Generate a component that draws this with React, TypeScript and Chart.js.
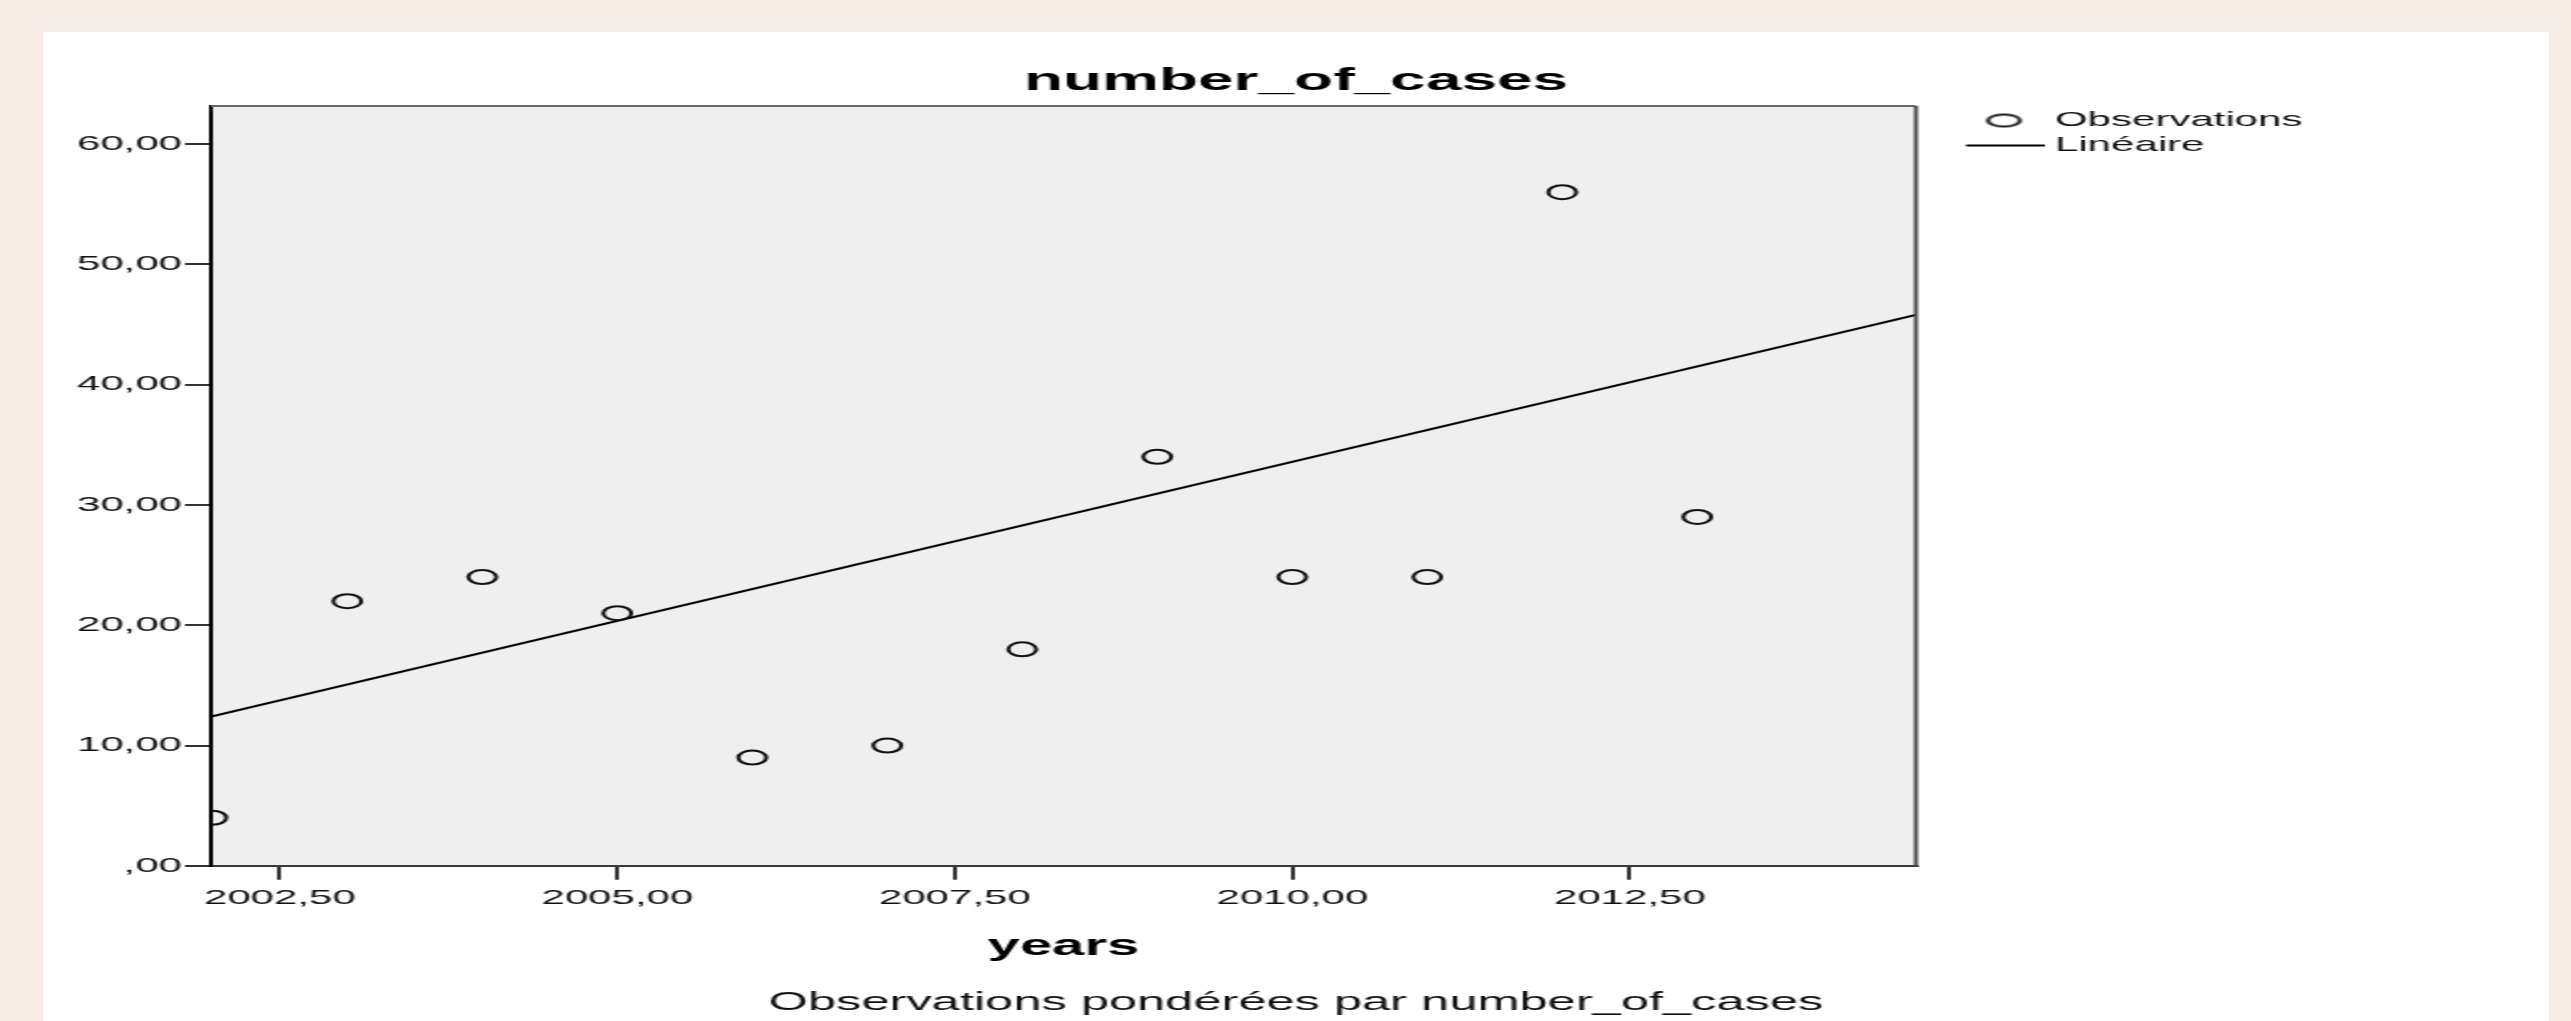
import React, { useEffect, useRef } from "react";
import { Chart, registerables } from "chart.js";

Chart.register(...registerables);

// ---- data ----
const years = [2002, 2003, 2004, 2005, 2006, 2007, 2008, 2009, 2010, 2011, 2012, 2013];
const cases = [4, 22, 24, 21, 9, 10, 18, 34, 24, 24, 56, 29];
const fitX = [2001.99, 2014.62];
const fitY = [12.4, 45.8];
const xRange = [2001.99, 2014.62];
const yRange = [0, 63.16];
const xTicks = [2002.5, 2005, 2007.5, 2010, 2012.5];
const xTickLabels = ["2002,50", "2005,00", "2007,50", "2010,00", "2012,50"];
const yTicks = [0, 10, 20, 30, 40, 50, 60];
const yTickLabels = [",00", "10,00", "20,00", "30,00", "40,00", "50,00", "60,00"];
const chartTitle = "number_of_cases";
const xTitle = "years";
const footnote = "Observations pondérées par number_of_cases";
const legendLabels = ["Observations", "Linéaire"];

// ---- layout (canvas pixels; canvas is stretched 2x horizontally) ----
const CW = 1253;
const CH = 989;
const PLOT_RIGHT = 936.5;
const LEGEND_GAP = 25;
const FONT = "'Liberation Sans', Arial, Helvetica, sans-serif";

function makeCircleImg() {
  const c = document.createElement("canvas");
  c.width = 20;
  c.height = 16;
  const g = c.getContext("2d")!;
  g.strokeStyle = "#111";
  g.lineWidth = 2;
  g.beginPath();
  g.ellipse(10, 8, 8, 6, 0, 0, Math.PI * 2);
  g.stroke();
  return c;
}

function makeLineImg() {
  const c = document.createElement("canvas");
  c.width = 40;
  c.height = 4;
  const g = c.getContext("2d")!;
  g.strokeStyle = "#000";
  g.lineWidth = 2;
  g.beginPath();
  g.moveTo(0, 2);
  g.lineTo(40, 2);
  g.stroke();
  return c;
}

const plotFrame = {
  id: "plotFrame",
  beforeDraw(chart: any) {
    const { ctx, chartArea: a } = chart;
    ctx.save();
    ctx.fillStyle = "#efefef";
    ctx.fillRect(a.left, a.top, a.right - a.left, a.bottom - a.top);
    ctx.restore();
  },
  afterDatasetsDraw(chart: any) {
    const { ctx, chartArea: a } = chart;
    ctx.save();
    ctx.lineWidth = 2;
    ctx.strokeStyle = "#6a6a6a";
    ctx.beginPath();
    ctx.moveTo(a.left, a.top);
    ctx.lineTo(a.right, a.top);
    ctx.stroke();
    ctx.strokeStyle = "#4a4a4a";
    ctx.beginPath();
    ctx.moveTo(a.right, a.top);
    ctx.lineTo(a.right, a.bottom);
    ctx.stroke();
    ctx.restore();
  },
};

export default function App() {
  const ref = useRef<HTMLCanvasElement | null>(null);

  useEffect(() => {
    if (!ref.current) return;
    const circleImg = makeCircleImg();
    const lineImg = makeLineImg();

    const chart = new Chart(ref.current, {
      type: "scatter",
      data: {
        datasets: [
          {
            label: legendLabels[0],
            data: years.map((x, i) => ({ x, y: cases[i] })),
            pointStyle: "circle",
            pointRadius: 7,
            pointBorderWidth: 2,
            pointBorderColor: "#111",
            pointBackgroundColor: "rgba(0,0,0,0)",
            clip: 0,
            xAxisID: "x",
            yAxisID: "y",
          },
          {
            label: legendLabels[1],
            data: fitX.map((x, i) => ({ x, y: fitY[i] })),
            showLine: true,
            borderColor: "#000",
            borderWidth: 2,
            pointRadius: 0,
            xAxisID: "x",
            yAxisID: "y",
          },
        ],
      },
      options: {
        responsive: false,
        devicePixelRatio: 1,
        animation: false,
        events: [],
        layout: { padding: 0 },
        plugins: {
          tooltip: { enabled: false },
          title: {
            display: true,
            text: chartTitle,
            color: "#000",
            font: { family: FONT, size: 32, weight: "bold" },
            padding: { top: 29.7, bottom: 5.9 },
          },
          subtitle: {
            display: true,
            position: "bottom",
            text: footnote,
            color: "#111",
            font: { family: FONT, size: 25.3 },
            padding: { top: 0, bottom: 2.4 },
          },
          legend: {
            display: true,
            position: "right",
            align: "start",
            fullSize: false,
            maxWidth: 400,
            labels: {
              usePointStyle: true,
              pointStyleWidth: 30,
              padding: 4,
              color: "#111",
              font: { family: FONT, size: 21 },
              generateLabels: () =>
                legendLabels.map((t, i) => ({
                  text: t,
                  pointStyle: i === 0 ? circleImg : lineImg,
                  fillStyle: "rgba(0,0,0,0)",
                  strokeStyle: "#000",
                  lineWidth: 1,
                  hidden: false,
                  datasetIndex: i,
                  fontColor: "#111",
                })) as any,
            },
          },
        },
        scales: {
          x: {
            type: "linear",
            position: "bottom",
            min: xRange[0],
            max: xRange[1],
            afterBuildTicks: (s: any) => {
              s.ticks = xTicks.map((v) => ({ value: v }));
            },
            afterFit: (s: any) => {
              s.height = 122.4;
            },
            ticks: {
              autoSkip: false,
              maxRotation: 0,
              padding: 6,
              color: "#111",
              font: { family: FONT, size: 21 },
              callback: (v: any) => {
                const i = xTicks.indexOf(Number(v));
                return i >= 0 ? xTickLabels[i] : "";
              },
            },
            grid: {
              display: true,
              drawOnChartArea: false,
              drawTicks: true,
              tickLength: 14,
              lineWidth: 2,
              tickWidth: 2,
              color: "#333",
              tickColor: "#333",
            },
            border: { display: true, color: "#3a3a3a", width: 2 },
            title: {
              display: true,
              text: xTitle,
              color: "#000",
              font: { family: FONT, size: 29, weight: "bold" },
              padding: { top: 0, bottom: 24 },
            },
          },
          y: {
            type: "linear",
            position: "left",
            min: yRange[0],
            max: yRange[1],
            afterBuildTicks: (s: any) => {
              s.ticks = yTicks.map((v) => ({ value: v }));
            },
            afterFit: (s: any) => {
              s.width = 84;
            },
            ticks: {
              autoSkip: false,
              padding: 1.5,
              color: "#111",
              font: { family: FONT, size: 21 },
              callback: (v: any) => {
                const i = yTicks.indexOf(Number(v));
                return i >= 0 ? yTickLabels[i] : "";
              },
            },
            grid: {
              display: true,
              drawOnChartArea: false,
              drawTicks: true,
              tickLength: 13,
              lineWidth: 2,
              tickWidth: 2,
              color: "#333",
              tickColor: "#333",
            },
            border: { display: true, color: "#000", width: 2 },
          },
          yGap: {
            type: "linear",
            position: "right",
            weight: 0,
            afterFit: (s: any) => {
              s.width = LEGEND_GAP;
            },
            ticks: { display: false },
            grid: { display: false },
            border: { display: false },
          },
          yPad: {
            type: "linear",
            position: "right",
            weight: 1500,
            afterFit: (s: any) => {
              const lw = s.chart && s.chart.legend ? s.chart.legend.width : 0;
              s.width = Math.max(0, CW - PLOT_RIGHT - LEGEND_GAP - lw);
            },
            ticks: { display: false },
            grid: { display: false },
            border: { display: false },
          },
        },
      } as any,
      plugins: [plotFrame],
    });

    return () => chart.destroy();
  }, []);

  return (
    <div
      style={{
        position: "absolute",
        left: 0,
        top: 0,
        width: 2571,
        height: 1021,
        overflow: "hidden",
        background: "#f6ebe5",
      }}
    >
      <div
        style={{
          position: "absolute",
          left: 43,
          top: 32,
          width: CW,
          height: CH,
          transform: "scaleX(2)",
          transformOrigin: "0 0",
          background: "#ffffff",
        }}
      >
        <canvas ref={ref} width={CW} height={CH} style={{ display: "block" }} />
      </div>
    </div>
  );
}
